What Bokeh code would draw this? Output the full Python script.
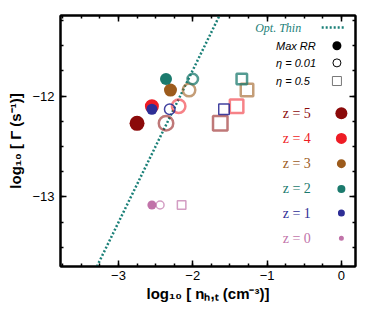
import numpy as np
from bokeh.plotting import figure
from bokeh.models import LinearAxis, FixedTicker, Range1d, CustomJSTickFormatter
from bokeh.core.properties import value
from bokeh.embed import file_html
from bokeh.resources import INLINE

# ---- data ----
z_vals = [5, 4, 3, 2, 1, 0]
log_gamma = [-12.27, -12.10, -11.94, -11.83, -12.13, -13.08]
log_n_maxrr = [-2.75, -2.55, -2.30, -2.36, -2.55, -2.55]
log_n_eta001 = [-2.36, -2.19, -2.05, -2.00, -2.31, -2.44]
log_n_eta05 = [-1.63, -1.41, -1.27, -1.34, -1.58, -2.15]
thin_n = [-3.29, -1.64]
thin_gamma = [-13.69, -11.20]
x_ticks = [-3, -2, -1, 0]
y_ticks = [-13, -12]

# ---- styles ----
colors = ["#8b0a0a", "#ee1c25", "#9c5b1c", "#1b7a6d", "#2e2e96", "#c173a9"]
size_filled = [15, 14, 13, 12, 11, 9]
size_open = [14.5, 13.5, 12.5, 10.5, 10.5, 8]
size_sq = [14.5, 13.5, 12.5, 10.5, 10.5, 8.5]
lw_open = [2.5, 2.5, 2.5, 2.5, 1.5, 1.5]
alpha_open = [0.55, 0.55, 0.6, 0.75, 0.9, 0.7]
leg_size = [12, 11, 9, 8, 7, 5]
teal = "#1b8078"

p = figure(width=366, height=308, x_range=Range1d(-3.78, 0.19),
           y_range=Range1d(-13.69, -11.20), output_backend="svg",
           toolbar_location=None, min_border_left=60, min_border_right=11,
           min_border_top=15, min_border_bottom=42)
p.xgrid.visible = False
p.ygrid.visible = False
p.outline_line_color = "black"
p.outline_line_width = 2
p.background_fill_color = "white"
p.border_fill_color = "white"

xt = FixedTicker(ticks=x_ticks, minor_ticks=list(np.arange(-3.75, 0.2, 0.25)))
yt = FixedTicker(ticks=y_ticks, minor_ticks=list(np.arange(-13.75, -11.1, 0.25)))
fmt = CustomJSTickFormatter(code="return (tick<0 ? '\u2212' : '') + Math.abs(tick).toFixed(0);")
blank = CustomJSTickFormatter(code="return '';")

def style_axis(ax, labels=True):
    ax.axis_line_width = 2
    ax.axis_line_color = "black"
    ax.major_tick_in = 6
    ax.major_tick_out = 0
    ax.minor_tick_in = 3
    ax.minor_tick_out = 0
    ax.major_tick_line_width = 1.5
    ax.minor_tick_line_width = 1.5
    if labels:
        ax.major_label_text_font = "Liberation Sans"
        ax.major_label_text_font_size = "13px"
        ax.major_label_text_color = "black"
        ax.axis_label_text_font = "Liberation Sans"
        ax.axis_label_text_font_size = "15px"
        ax.axis_label_text_font_style = "bold"
        ax.axis_label_text_color = "black"
    else:
        ax.formatter = blank
        ax.major_label_standoff = 0

p.xaxis.ticker = xt
p.yaxis.ticker = yt
p.xaxis.formatter = fmt
p.yaxis.formatter = fmt
style_axis(p.xaxis[0])
style_axis(p.yaxis[0])
p.xaxis.major_label_standoff = 4
p.xaxis.axis_label_standoff = 2
p.yaxis.major_label_standoff = 6
p.yaxis.axis_label_standoff = 5
p.xaxis.axis_label = "log\u2081\u2080 [ n\u2095,\u209c (cm\u207b\u00b3)]"
p.yaxis.axis_label = "log\u2081\u2080 [ \u0393 (s\u207b\u00b9)]"

top = LinearAxis(ticker=xt)
style_axis(top, labels=False)
p.add_layout(top, "above")
right = LinearAxis(ticker=yt)
style_axis(right, labels=False)
p.add_layout(right, "right")

# optically thin line
p.line(thin_n, thin_gamma, line_color=teal, line_dash="2 2", line_width=2.5)

# markers
p.scatter(log_n_maxrr, log_gamma, marker="circle", size=size_filled,
          fill_color=colors, line_color=None)
p.scatter(log_n_eta001, log_gamma, marker="circle", size=size_open,
          fill_color=None, line_color=colors, line_width=lw_open, line_alpha=alpha_open)
p.scatter(log_n_eta05, log_gamma, marker="square", size=size_sq,
          fill_color=None, line_color=colors, line_width=lw_open, line_alpha=alpha_open)

# legend (manual, drawn in data space)
leg = dict(text_x=-1.16, meta_x=-0.88, meta_mark_x=-0.06, z_x=-0.79, z_mark_x=0.0)
p.text([leg["text_x"]], [-11.32], text=["Opt. Thin"], text_font=value("Liberation Serif"),
       text_font_style="italic", text_font_size="12px", text_color=teal,
       text_baseline="middle", text_align="left")
p.line([-0.265, 0.045], [-11.32, -11.32], line_color=teal, line_dash="2 2", line_width=2.5)

meta_y = [-11.50, -11.67, -11.85]
p.text([leg["meta_x"]] * 3, meta_y, text=["Max RR", "\u03b7 = 0.01", "\u03b7 = 0.5"],
       text_font=value("Liberation Sans"), text_font_style="italic", text_font_size="11px",
       text_color="black", text_baseline="middle", text_align="left")
p.scatter([leg["meta_mark_x"]], [meta_y[0]], marker="circle", size=9, fill_color="black", line_color=None)
p.scatter([leg["meta_mark_x"]], [meta_y[1]], marker="circle", size=8, fill_color=None, line_color="black", line_width=1)
p.scatter([leg["meta_mark_x"]], [meta_y[2]], marker="square", size=9, fill_color=None, line_color="#777777", line_width=1)

z_y = [-12.17, -12.42, -12.67, -12.92, -13.16, -13.41]
p.text([leg["z_x"]] * 6, z_y, text=[f"z = {z}" for z in z_vals],
       text_font=value("Liberation Serif"), text_font_size="14px", text_color=colors,
       text_baseline="middle", text_align="left")
p.scatter([leg["z_mark_x"]] * 6, z_y, marker="circle", size=leg_size, fill_color=colors, line_color=None)

open("out.html", "w").write(file_html(p, INLINE))
